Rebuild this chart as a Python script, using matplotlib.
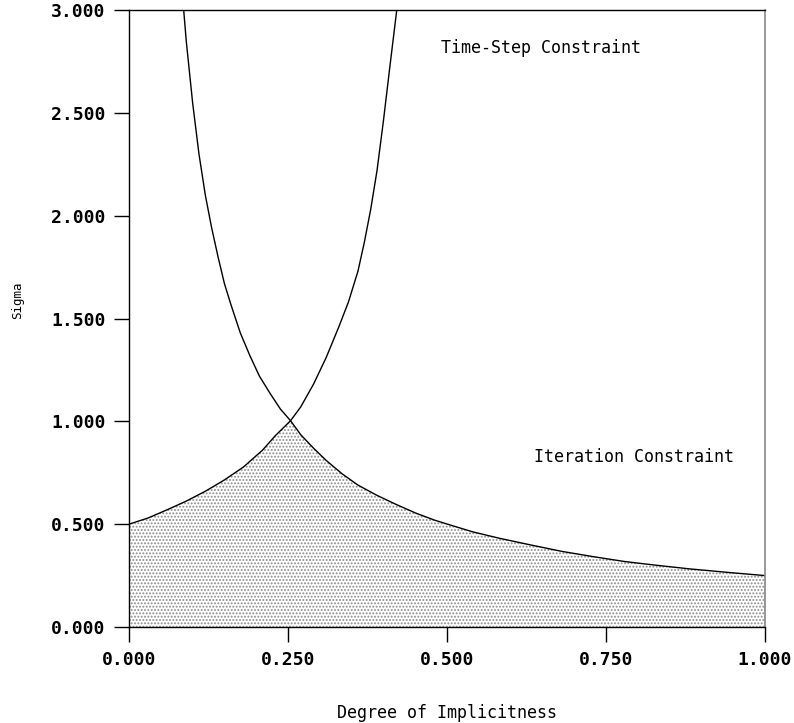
import matplotlib
matplotlib.use("Agg")
import matplotlib.pyplot as plt

# Time-step constraint curve (rising)
ts_x = [0.000, 0.030, 0.060, 0.090, 0.120, 0.150, 0.180, 0.210, 0.230, 0.254,
        0.270, 0.290, 0.310, 0.330, 0.345, 0.360, 0.370, 0.380, 0.390, 0.400,
        0.410, 0.421]
ts_y = [0.500, 0.530, 0.570, 0.612, 0.660, 0.715, 0.778, 0.860, 0.930, 1.003,
        1.070, 1.180, 1.310, 1.460, 1.580, 1.730, 1.870, 2.030, 2.220, 2.460,
        2.720, 3.000]

# Iteration constraint curve (falling)
it_x = [0.086, 0.090, 0.100, 0.110, 0.120, 0.130, 0.140, 0.150, 0.160, 0.175,
        0.190, 0.205, 0.222, 0.238, 0.254, 0.270, 0.290, 0.310, 0.335, 0.360,
        0.390, 0.420, 0.450, 0.480, 0.505, 0.540, 0.583, 0.630, 0.680, 0.730,
        0.780, 0.830, 0.880, 0.940, 1.000]
it_y = [3.000, 2.850, 2.550, 2.300, 2.100, 1.940, 1.800, 1.670, 1.570, 1.430,
        1.320, 1.220, 1.135, 1.060, 1.003, 0.935, 0.870, 0.810, 0.745, 0.690,
        0.640, 0.596, 0.555, 0.520, 0.496, 0.463, 0.431, 0.400, 0.368, 0.342,
        0.318, 0.300, 0.283, 0.266, 0.250]

x_ticks = [0.0, 0.25, 0.5, 0.75, 1.0]
y_ticks = [0.0, 0.5, 1.0, 1.5, 2.0, 2.5, 3.0]
x_label = "Degree of Implicitness"
y_label = "Sigma"
label_ts = "Time-Step Constraint"
label_it = "Iteration Constraint"

plt.rcParams['hatch.linewidth'] = 0.9
fig = plt.figure(figsize=(7.94, 7.23), dpi=100)
ax = fig.add_axes([129/794, 1 - 627/723, (765-129)/794, (627-10)/723])

# shaded feasible region: under the lower of the two curves
peak = 0.254
fx = [x for x in ts_x if x < peak] + [x for x in it_x if x >= peak]
fy = [y for x, y in zip(ts_x, ts_y) if x < peak] + [y for x, y in zip(it_x, it_y) if x >= peak]
ax.fill_between(fx, 0, fy, facecolor='white', edgecolor='#8a8a8a', hatch='.....', linewidth=0)

ax.plot(ts_x, ts_y, color='black', lw=1.0)
ax.plot(it_x, it_y, color='black', lw=1.0)

ax.set_xlim(0, 1)
ax.set_ylim(0, 3)
ax.set_xticks(x_ticks)
ax.set_yticks(y_ticks)
ax.set_xticklabels([f"{v:.3f}" for v in x_ticks])
ax.set_yticklabels([f"{v:.3f}" for v in y_ticks])

for lab in ax.get_xticklabels() + ax.get_yticklabels():
    lab.set_fontfamily('DejaVu Sans Mono')
    lab.set_fontweight('bold')
    lab.set_fontsize(13)
ax.tick_params(axis='both', direction='out', length=11, width=1.0, color='black', pad=6)

for s in ['left', 'bottom', 'top']:
    ax.spines[s].set_color('black')
    ax.spines[s].set_linewidth(1.0)
ax.spines['right'].set_color('#888888')
ax.spines['right'].set_linewidth(1.2)

fig.text(18/794, 1 - 300/723, y_label, rotation=90, ha='center', va='center',
         family='DejaVu Sans Mono', size=9)
fig.text(447/794, 1 - 713/723, x_label, ha='center', va='center',
         family='DejaVu Sans Mono', size=12)

ax.text(0.648, 2.815, label_ts, ha='center', va='center', family='DejaVu Sans Mono', size=12)
ax.text(0.794, 0.826, label_it, ha='center', va='center', family='DejaVu Sans Mono', size=12)

fig.savefig("out.png", dpi=100)
